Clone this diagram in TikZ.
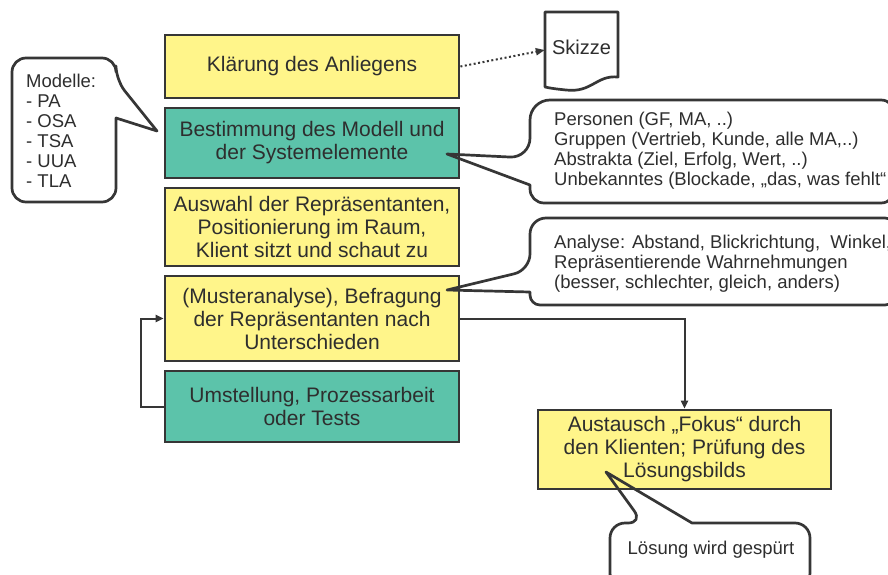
\documentclass[tikz,border=0pt]{standalone}
\usepackage{fontspec}
\setmainfont{Liberation Sans}
\usetikzlibrary{arrows.meta}
\definecolor{boxyellow}{HTML}{FFF58A}
\definecolor{boxteal}{HTML}{5CC3AA}
\definecolor{ink}{HTML}{2E2E2E}
\definecolor{edge}{HTML}{363636}
\begin{document}
\begin{tikzpicture}[x=1pt,y=-1pt,
  stepbox/.style={draw=edge, line width=2.8pt, text=ink, font=\fontsize{21}{23}\selectfont,
    align=center, minimum width=294pt, inner sep=0pt},
  yellowbox/.style={stepbox, fill=boxyellow},
  tealbox/.style={stepbox, fill=boxteal},
  bubblefill/.style={fill=white},
  bubbleline/.style={draw=edge, line width=2.7pt, line join=round},
  bubbletext/.style={text=ink, font=\fontsize{18.5}{20}\selectfont, align=left, inner sep=0pt},
  conn/.style={draw=edge, line width=2pt, -{Triangle[length=8pt,width=7pt]}},
  dotconn/.style={draw=edge, line width=2pt, dash pattern=on 2pt off 2.5pt, -{Triangle[length=9pt,width=7pt]}}
]
\clip (0,0) rectangle (888,575);
\fill[white] (0,0) rectangle (888,575);

% bubble shapes
\def\modellepath{(12,130) [rounded corners=14] -- (12,58) -- (116,58) -- (116,80) [sharp corners] -- (157,131) -- (116,118) -- (116,125) [rounded corners=14] -- (116,202) -- (12,202) -- cycle}
\def\personenpath{(700,100) [rounded corners=20] -- (530,100) -- (530,158) [sharp corners] -- (447,154) -- (530,185) -- (530,188) [rounded corners=14] -- (530,203) -- (895,203) -- (895,100) -- cycle}
\def\analysepath{(700,218) [rounded corners=16] -- (530,218) -- (530,270) [sharp corners] -- (447,290) -- (530,292) -- (530,293) [rounded corners=10] -- (530,305) -- (895,305) -- (895,218) -- cycle}
\def\loesungpath{(610,560) [rounded corners=15] -- (610,523) -- (643,523) [sharp corners] -- (606,472) -- (692,523) -- (695,523) [rounded corners=15] -- (810,523) -- (810,588) -- (610,588) -- cycle}

\fill[bubblefill] \modellepath;
\fill[bubblefill] \personenpath;
\fill[bubblefill] \analysepath;
\fill[bubblefill] \loesungpath;

% main boxes
\node[yellowbox, minimum height=63pt] (b1) at (312,66.5) {Klärung des Anliegens};
\node[tealbox, minimum height=70pt] (b2) at (312,143) {Bestimmung des Modell und\\der Systemelemente};
\node[yellowbox, minimum height=78pt] (b3) at (312,227) {Auswahl der Repräsentanten,\\Positionierung im Raum,\\Klient sitzt und schaut zu};
\node[yellowbox, minimum height=85pt] (b4) at (312,318.5) {(Musteranalyse), Befragung\\der Repräsentanten nach\\Unterschieden};
\node[tealbox, minimum height=71pt] (b5) at (312,406.5) {Umstellung, Prozessarbeit\\oder Tests};
\node[yellowbox, minimum width=293pt, minimum height=79pt] (aus) at (684.5,449.5) {Austausch „Fokus“ durch\\den Klienten; Prüfung des\\Lösungsbilds};

% bubble outlines
\draw[bubbleline] \modellepath;
\draw[bubbleline] \personenpath;
\draw[bubbleline] \analysepath;
\draw[bubbleline] \loesungpath;

% bubble texts
\node[bubbletext, anchor=west] (tm) at (26,130.5) {Modelle:\\- PA\\- OSA\\- TSA\\- UUA\\- TLA};
\node[bubbletext, anchor=west] (tp) at (554,150.5) {Personen (GF, MA, ..)\\Gruppen (Vertrieb, Kunde, alle MA,..)\\Abstrakta (Ziel, Erfolg, Wert, ..)\\Unbekanntes (Blockade, „das, was fehlt“};
\node[bubbletext, anchor=west] (ta) at (554,263.5) {Analyse: Abstand, Blickrichtung,\ \ Winkel,\\Repräsentierende Wahrnehmungen\\(besser, schlechter, gleich, anders)};
\node[bubbletext, font=\fontsize{18.5}{20}\selectfont] (tl) at (711,550) {Lösung wird gespürt};

% Skizze document
\draw[bubbleline, fill=white] (545,12) -- (618,12) -- (618,77) .. controls (596,75) and (592,93) .. (566,90) .. controls (556,89) and (549,88) .. (545,87) -- cycle;
\node[text=ink, font=\fontsize{20}{22}\selectfont, minimum width=73pt, minimum height=76pt, inner sep=0pt] (sk) at (581.5,50) {\raisebox{5pt}{Skizze}};

% connectors
\draw[dotconn] (b1.east) -- (sk.west);
\draw[conn] (b5.west) -- ++(-23,0) |- (b4.west);
\draw[conn] (b4.east) -| (aus.north);
\end{tikzpicture}
\end{document}
